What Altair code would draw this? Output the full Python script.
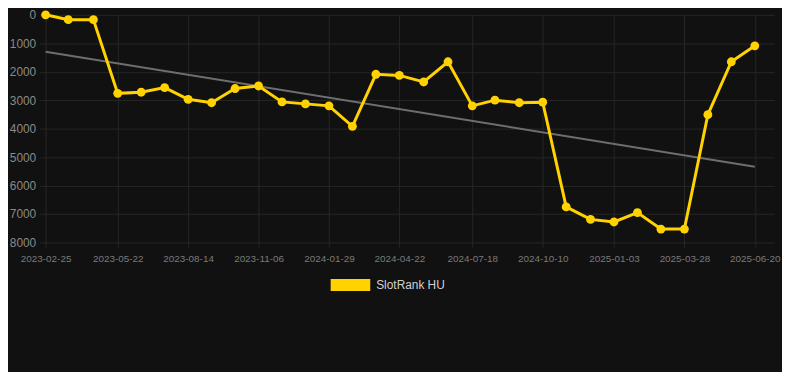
import altair as alt
import pandas as pd

dates = ["2023-02-25", "2023-03-24", "2023-04-23", "2023-05-22", "2023-06-19",
         "2023-07-17", "2023-08-14", "2023-09-11", "2023-10-09", "2023-11-06",
         "2023-12-04", "2024-01-01", "2024-01-29", "2024-02-26", "2024-03-25",
         "2024-04-22", "2024-05-21", "2024-06-19", "2024-07-18", "2024-08-14",
         "2024-09-12", "2024-10-10", "2024-11-07", "2024-12-06", "2025-01-03",
         "2025-01-31", "2025-02-28", "2025-03-28", "2025-04-25", "2025-05-23",
         "2025-06-20"]
ranks = [0, 170, 170, 2760, 2720, 2560, 2970, 3090, 2590, 2500,
         3060, 3130, 3200, 3920, 2090, 2130, 2360, 1650, 3200, 3000,
         3090, 3070, 6750, 7190, 7280, 6950, 7530, 7530, 3510, 1650,
         1090]
series_name = "SlotRank HU"
tick_dates = ["2023-02-25", "2023-05-22", "2023-08-14", "2023-11-06", "2024-01-29",
              "2024-04-22", "2024-07-18", "2024-10-10", "2025-01-03", "2025-03-28",
              "2025-06-20"]
y_ticks = [0, 1000, 2000, 3000, 4000, 5000, 6000, 7000, 8000]

df = pd.DataFrame({"date": dates, "rank": ranks, "series": series_name})


def dt(s):
    y, m, d = (int(p) for p in s.split("-"))
    return alt.DateTime(year=y, month=m, date=d, utc=True)


GOLD = "#FFD200"
GRID = "#262626"

x_scale = alt.Scale(type="utc", domain=[dt("2023-02-25"), dt("2025-07-13")])
y_scale = alt.Scale(domain=[0, 8000], reverse=True, nice=False, zero=False)

x_axis = alt.Axis(values=[dt(s) for s in tick_dates], format="%Y-%m-%d",
                  labelColor="#7a7a7a", labelFontSize=10, labelFont="Liberation Sans",
                  grid=True, gridColor=GRID, tickColor=GRID, tickSize=5,
                  domain=False, labelPadding=6, title=None, labelFlush=False,
                  labelOverlap=False)
y_axis = alt.Axis(values=y_ticks, format="d", labelColor="#8a8a8a", labelFontSize=12,
                  labelFont="Liberation Sans", grid=True, gridColor=GRID,
                  tickColor=GRID, tickSize=6, domain=False, labelPadding=4,
                  title=None, labelOverlap=False)

X = alt.X("date:T", scale=x_scale, axis=x_axis)
Y = alt.Y("rank:Q", scale=y_scale, axis=y_axis)

base = alt.Chart(df)

trend = base.transform_regression("date", "rank").mark_line(
    color="#6e6e6e", strokeWidth=2
).encode(x=X, y=Y)

line = base.mark_line(color=GOLD, strokeWidth=3).encode(x=X, y=Y)

points = base.mark_point(filled=True, size=80, opacity=1).encode(
    x=X, y=Y,
    color=alt.Color("series:N", scale=alt.Scale(range=[GOLD]),
                    legend=alt.Legend(title=None, orient="none", legendX=288, legendY=253,
                                      symbolType="M-1,-0.3H1V0.3H-1Z", symbolSize=1600,
                                      symbolStrokeWidth=0, labelColor="#d0d0d0",
                                      labelFontSize=12, labelFont="Liberation Sans",
                                      padding=0, labelOffset=6)),
)

chart = alt.layer(trend, line, points).properties(
    width=736, height=230,
    autosize=alt.AutoSizeParams(type="none"),
    padding={"left": 38, "top": 5, "right": 8, "bottom": 129},
    background="#111111",
).configure_view(stroke=None)

chart.save("out.html", embed_options={"renderer": "svg", "actions": False})
